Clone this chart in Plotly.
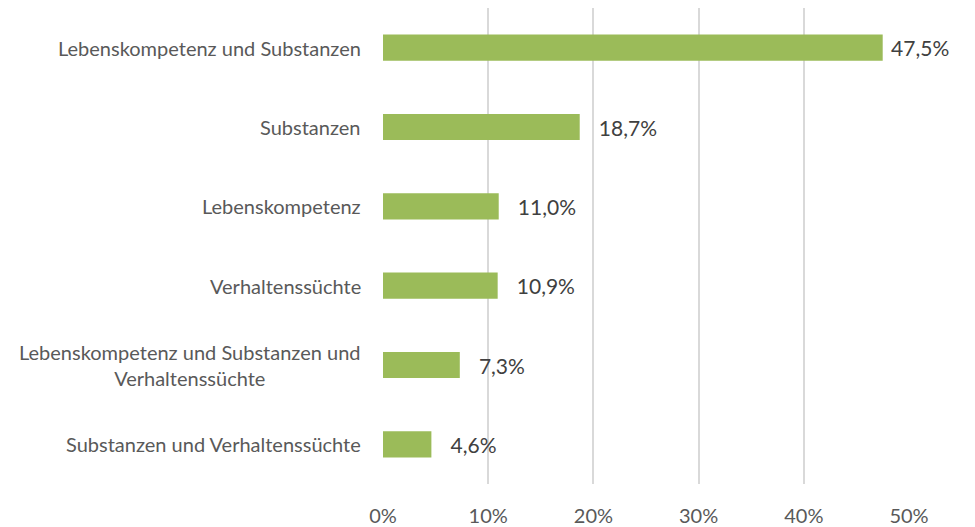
import plotly.graph_objects as go

categories = [
    "Lebenskompetenz und Substanzen",
    "Substanzen",
    "Lebenskompetenz",
    "Verhaltenssüchte",
    "Lebenskompetenz und Substanzen und<br>Verhaltenssüchte",
    "Substanzen und Verhaltenssüchte",
]
values = [47.5, 18.7, 11.0, 10.9, 7.3, 4.6]
value_labels = ["47,5%", "18,7%", "11,0%", "10,9%", "7,3%", "4,6%"]
tick_vals = [0, 10, 20, 30, 40, 50]
tick_text = ["0%", "10%", "20%", "30%", "40%", "50%"]

FONT = "Lato"

# wider gap for labels that have room; the longest bar's label sits closer
templates = ["\u00a0%{text}" if v == max(values) else "\u00a0\u00a0\u00a0%{text}" for v in values]

fig = go.Figure(
    go.Bar(
        x=values,
        y=categories,
        orientation="h",
        marker=dict(color="#9BBB59", line=dict(width=0)),
        text=value_labels,
        texttemplate=templates,
        textposition="outside",
        textfont=dict(family=FONT, size=21, color="#404040"),
        cliponaxis=False,
        hoverinfo="skip",
    )
)

annotations = [
    dict(
        x=-0.038, y=c, xref="paper", yref="y", text=c, showarrow=False,
        xanchor="right", yanchor="middle", align="center",
        font=dict(family=FONT, size=20, color="#595959"),
    )
    for c in categories
]

fig.update_layout(
    width=975, height=527,
    margin=dict(l=383, r=66, t=8, b=43),
    paper_bgcolor="white", plot_bgcolor="white",
    showlegend=False,
    bargap=0.67,
    annotations=annotations,
    uniformtext=dict(minsize=1),
    xaxis=dict(
        range=[0, 50], tickvals=tick_vals, ticktext=tick_text,
        showgrid=True, gridcolor="#D9D9D9", gridwidth=2,
        zeroline=False, showline=False, automargin=False,
        tickfont=dict(family=FONT, size=20, color="#595959"),
        ticklabelstandoff=18,
    ),
    yaxis=dict(
        autorange="reversed", showticklabels=False, showgrid=False,
        zeroline=False, showline=False, automargin=False,
    ),
)

fig.write_html(
    "out.html",
    config={"displayModeBar": False},
    post_script="document.body.style.margin='0';document.body.style.padding='0';",
)
